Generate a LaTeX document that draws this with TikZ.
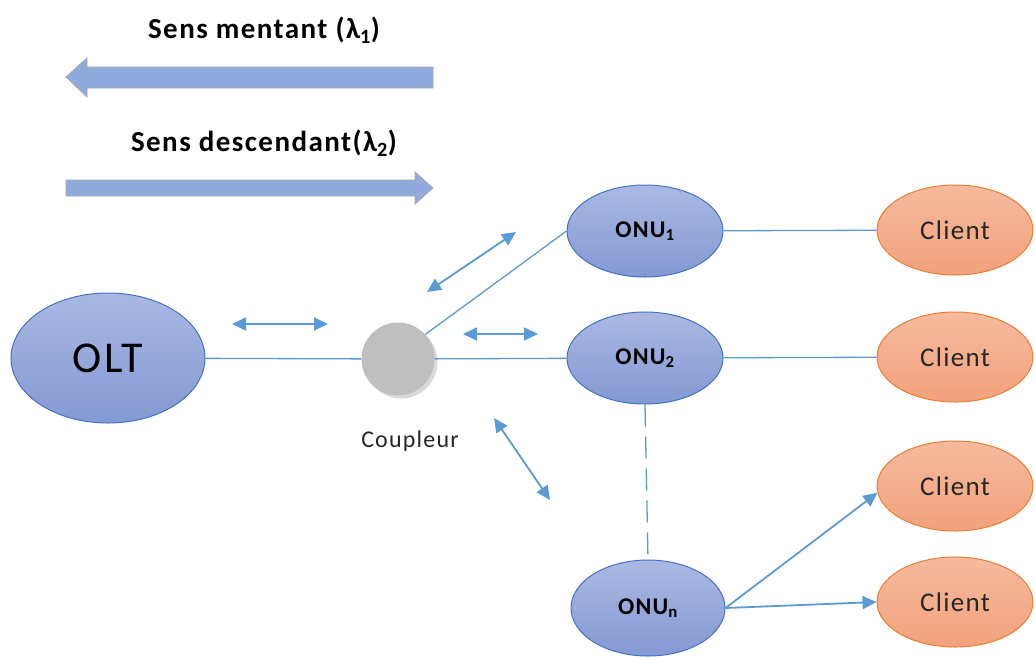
\documentclass[tikz,border=0pt]{standalone}
\usepackage{fontspec}
\setmainfont{Carlito}
\newfontfamily\widefont[LetterSpace=5]{Carlito}
\newfontfamily\loosefont[LetterSpace=5]{Carlito}
\usetikzlibrary{arrows.meta,shapes.geometric,shadows}

\definecolor{linkblue}{HTML}{5B9BD5}
\definecolor{bandfill}{HTML}{8FAADC}
\definecolor{bandedge}{HTML}{A6A6A6}
\definecolor{onutop}{HTML}{AAB9E3}
\definecolor{onubot}{HTML}{8499D3}
\definecolor{onuedge}{HTML}{4472C4}
\definecolor{clitop}{HTML}{F6BA9E}
\definecolor{clibot}{HTML}{F2A27C}
\definecolor{cliedge}{HTML}{ED7D31}
\definecolor{coupfill}{HTML}{BFBFBF}
\definecolor{textdark}{HTML}{262626}

\tikzset{
  onu/.style={ellipse, draw=onuedge, line width=1pt, top color=onutop, bottom color=onubot,
    minimum width=156pt, minimum height=92pt, inner sep=0pt,
    font=\loosefont\fontsize{24}{28}\selectfont\bfseries},
  client/.style={ellipse, draw=cliedge, line width=1pt, top color=clitop, bottom color=clibot,
    minimum width=156pt, minimum height=90pt, inner sep=0pt,
    text=textdark, font=\loosefont\fontsize{27}{32}\selectfont},
  link/.style={draw=linkblue, line width=1.3pt},
  feed/.style={draw=linkblue, line width=1.8pt, -{Triangle[length=14pt,width=13pt]}},
  twoway/.style={draw=linkblue, line width=1.8pt,
    {Triangle[length=14pt,width=13pt]}-{Triangle[length=14pt,width=13pt]}},
  band/.style={fill=bandfill, draw=bandedge, line width=0.8pt},
  caption/.style={font=\widefont\fontsize{29}{34}\selectfont\bfseries, text=black}
}

\begin{document}
\begin{tikzpicture}[x=1pt,y=-1pt]
\useasboundingbox (0,0) rectangle (1035,657);

% direction legend
\node[caption] (up) at (264,30) {Sens mentant (λ\textsubscript{1})};
\path[band] (433,67) -- (87,67) -- (87,58) -- (66,77) -- (87,97) -- (87,88) -- (433,88) -- cycle;
\node[caption] (down) at (264,143) {Sens descendant(λ\textsubscript{2})};
\path[band] (66,180) -- (415,180) -- (415,172) -- (433,188) -- (415,204) -- (415,196) -- (66,196) -- cycle;

% central office and splitter
\node[ellipse, draw=onuedge, line width=1pt, top color=onutop, bottom color=onubot,
  minimum width=194pt, minimum height=130pt, inner sep=0pt,
  font=\loosefont\fontsize{44}{50}\selectfont] (olt) at (108,358) {OLT};
\node[circle, fill=coupfill, minimum size=73pt, inner sep=0pt,
  drop shadow={opacity=0.3, shadow xshift=3pt, shadow yshift=-3pt}] (coup) at (398,359) {};
\node[font=\loosefont\fontsize{24}{28}\selectfont, text=textdark] (couplbl) at (410,441) {Coupleur};

% optical network units
\node[onu] (onu1) at (645,231) {ONU\textsubscript{1}};
\node[onu] (onu2) at (645,358) {ONU\textsubscript{2}};
\node[onu, minimum width=154pt, minimum height=96pt] (onun) at (648,608) {ONU\textsubscript{n}};

% subscribers
\node[client] (cl1) at (955,230) {Client};
\node[client] (cl2) at (955,357) {Client};
\node[client] (cl3) at (955,486) {Client};
\node[client] (cl4) at (955,602) {Client};

% fibre links
\draw[link] (olt) -- (coup);
\draw[link] (coup.42) -- (onu1.west);
\draw[link] (coup) -- (onu2);
\draw[link, dash pattern=on 22pt off 10pt] (onu2.south) -- (onun.north);
\draw[link] (onu1) -- (cl1);
\draw[link] (onu2) -- (cl2);
\draw[feed] (onun.east) -- (cl3.185);
\draw[feed] (onun.east) -- (cl4.west);

% two-way traffic markers
\coordinate (m1a) at (232,324);
\coordinate (m1b) at (328,324);
\coordinate (m2a) at (427,292);
\coordinate (m2b) at (516,232);
\coordinate (m3a) at (463,334);
\coordinate (m3b) at (538,334);
\coordinate (m4a) at (494,418);
\coordinate (m4b) at (550,500);
\draw[twoway] (m1a) -- (m1b);
\draw[twoway] (m2a) -- (m2b);
\draw[twoway] (m3a) -- (m3b);
\draw[twoway] (m4a) -- (m4b);
\end{tikzpicture}
\end{document}
